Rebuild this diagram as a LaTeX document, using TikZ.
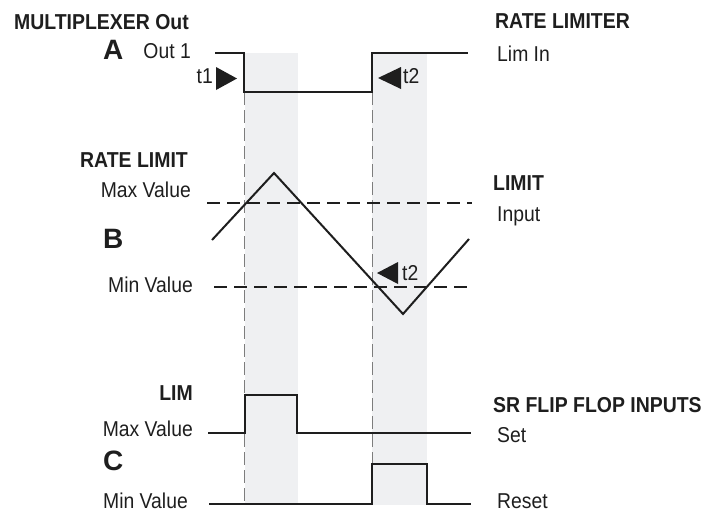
\documentclass[tikz,border=0pt]{standalone}
\usepackage{fontspec}
\setmainfont{Liberation Sans}[FakeStretch=0.9]
\newfontfamily\timwide{Liberation Sans}
\usetikzlibrary{positioning}
\definecolor{TimBlack}{RGB}{30,30,30}
\definecolor{TimGray}{RGB}{125,125,125}
\definecolor{TimBand}{RGB}{239,240,242}
\tikzset{
  tim/wave/.style={draw=TimBlack, line width=2pt, line join=miter},
  tim/level/.style={draw=TimBlack, line width=2pt, dash pattern=on 13pt off 7pt},
  tim/guide/.style={draw=TimGray, line width=1pt, dash pattern=on 13pt off 5pt},
  tim/band/.style={fill=TimBand, draw=none},
  tim/marker/.style={fill=TimBlack},
  tim/head/.style={font=\fontsize{21.6}{25}\selectfont\bfseries, text=TimBlack, inner sep=0pt},
  tim/label/.style={font=\fontsize{21.5}{25}\selectfont, text=TimBlack, inner sep=0pt},
  tim/letter/.style={font=\timwide\fontsize{28}{32}\selectfont\bfseries, text=TimBlack, inner sep=0pt}
}

\begin{document}
\begin{tikzpicture}[x=1pt,y=-1pt]
  \useasboundingbox (0,0) rectangle (708,512);
  % shaded windows and guides
  \fill[tim/band] (245,53) rectangle (298,505);
  \fill[tim/band] (372,53) rectangle (427,505);
  \draw[tim/guide] (244,92) -- (244,505);
  \draw[tim/guide] (372,92) -- (372,505);
  % A: multiplexer out
  \draw[tim/wave] (215,53) -- (244,53) -- (244,92) -- (372,92) -- (372,53) -- (468,53);
  \fill[tim/marker] (216,67) -- (237,78.5) -- (216,90) -- cycle;
  \fill[tim/marker] (401,67) -- (378,78) -- (401,89) -- cycle;
  % B: rate limit
  \draw[tim/level] (207,203) -- (472,203);
  \draw[tim/level] (214,287) -- (469,287);
  \draw[tim/wave] (212,240) -- (274,173) -- (403,314) -- (469,239);
  \fill[tim/marker] (398,262) -- (377,273) -- (398,284) -- cycle;
  % C: limit outputs
  \draw[tim/wave] (208,433) -- (245,433) -- (245,395) -- (297,395) -- (297,433) -- (471,433);
  \draw[tim/wave] (209,504) -- (372,504) -- (372,464) -- (427,464) -- (427,504) -- (471,504);
  % labels
  \node[tim/head, anchor=base west] (mux) at (14,29) {MULTIPLEXER Out};
  \node[tim/letter, anchor=base west] (letA) at (103,59) {A};
  \node[tim/label, anchor=base east] (out1) at (191,58) {Out 1};
  \node[tim/label, anchor=base east] (tone) at (213,83) {t1};
  \node[tim/head, anchor=base west] (limiter) at (495,28) {RATE LIMITER};
  \node[tim/label, anchor=base west] (limin) at (497,61) {Lim In};
  \node[tim/label, anchor=base west] (ttwo) at (403,83) {t2};
  \node[tim/head, anchor=base east] (ratelimit) at (188,167) {RATE LIMIT};
  \node[tim/label, anchor=base east] (maxB) at (191,197) {Max Value};
  \node[tim/letter, anchor=base west] (letB) at (103,248) {B};
  \node[tim/label, anchor=base east] (minB) at (193,292) {Min Value};
  \node[tim/head, anchor=base west] (limit) at (493,190) {LIMIT};
  \node[tim/label, anchor=base west] (input) at (497,221) {Input};
  \node[tim/label, anchor=base west] (ttwoB) at (402,280) {t2};
  \node[tim/head, anchor=base east] (lim) at (193,400) {LIM};
  \node[tim/label, anchor=base east] (maxC) at (193,436) {Max Value};
  \node[tim/letter, anchor=base west] (letC) at (103,470) {C};
  \node[tim/label, anchor=base east] (minC) at (188,508) {Min Value};
  \node[tim/head, anchor=base west] (srff) at (493,412) {SR FLIP FLOP INPUTS};
  \node[tim/label, anchor=base west] (set) at (497,442) {Set};
  \node[tim/label, anchor=base west] (reset) at (497,508) {Reset};
\end{tikzpicture}
\end{document}
